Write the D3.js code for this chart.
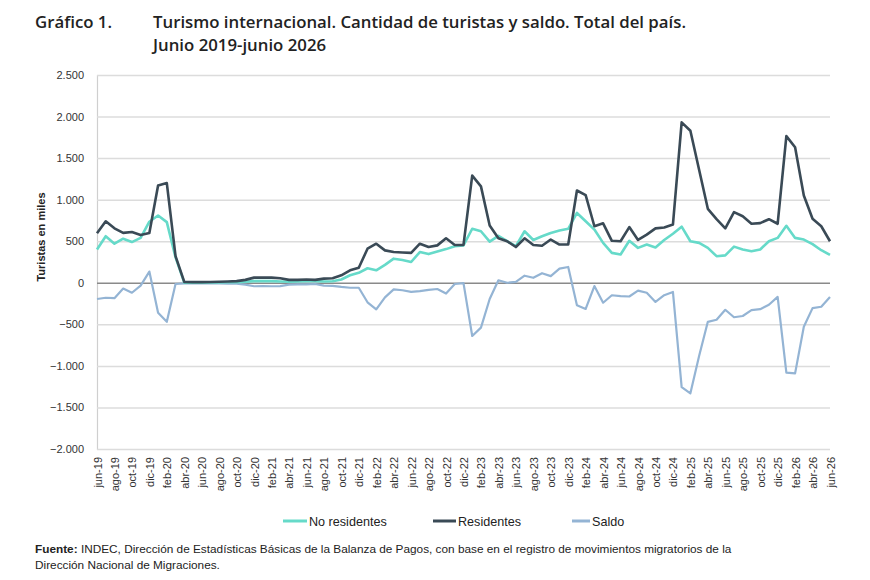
<!DOCTYPE html>
<html><head><meta charset="utf-8">
<script src="https://cdn.jsdelivr.net/npm/d3@7"></script>
<style>body{margin:0;background:#fff}svg{display:block}</style>
</head><body><svg id="c" width="870" height="580"></svg>
<script>
const months = ["jun-19","jul-19","ago-19","sep-19","oct-19","nov-19","dic-19","ene-20","feb-20","mar-20","abr-20","may-20","jun-20","jul-20","ago-20","sep-20","oct-20","nov-20","dic-20","ene-21","feb-21","mar-21","abr-21","may-21","jun-21","jul-21","ago-21","sep-21","oct-21","nov-21","dic-21","ene-22","feb-22","mar-22","abr-22","may-22","jun-22","jul-22","ago-22","sep-22","oct-22","nov-22","dic-22","ene-23","feb-23","mar-23","abr-23","may-23","jun-23","jul-23","ago-23","sep-23","oct-23","nov-23","dic-23","ene-24","feb-24","mar-24","abr-24","may-24","jun-24","jul-24","ago-24","sep-24","oct-24","nov-24","dic-24","ene-25","feb-25","mar-25","abr-25","may-25","jun-25","jul-25","ago-25","sep-25","oct-25","nov-25","dic-25","ene-26","feb-26","mar-26","abr-26","may-26","jun-26"];
const noResidentes = [400,560,470,530,490,540,735,810,730,305,2,2,2,3,4,6,8,12,20,22,20,15,12,15,20,20,15,18,40,90,120,175,150,215,290,275,250,370,345,375,405,440,450,650,620,495,565,500,440,620,515,560,600,630,650,840,740,640,480,360,340,505,420,460,425,515,590,675,500,480,420,320,330,435,400,380,400,500,540,685,540,520,465,392,335];
const residentes = [595,740,655,600,610,575,600,1170,1200,320,10,8,8,10,12,15,20,35,62,62,62,55,35,35,40,35,50,55,90,150,180,410,470,390,370,365,360,470,430,450,535,455,455,1290,1160,690,535,500,430,535,455,445,520,460,460,1110,1055,680,715,505,500,670,515,580,655,665,700,1930,1830,1360,890,765,655,850,800,710,718,765,710,1765,1630,1050,770,680,500];
const saldo = [-195,-180,-185,-70,-120,-35,135,-360,-470,-15,-8,-6,-6,-7,-8,-9,-12,-23,-42,-40,-42,-40,-23,-20,-20,-15,-35,-37,-50,-60,-60,-235,-320,-175,-80,-90,-110,-100,-85,-75,-130,-15,-5,-640,-540,-195,30,0,10,85,60,115,80,170,190,-270,-315,-40,-240,-150,-160,-165,-95,-120,-230,-150,-110,-1255,-1330,-880,-470,-445,-325,-415,-400,-330,-318,-265,-170,-1080,-1090,-530,-305,-288,-170];
const yTicks = [2500,2000,1500,1000,500,0,-500,-1000,-1500,-2000];
const seriesNames = ["No residentes","Residentes","Saldo"];
const seriesColors = ["#66dac9","#3a4a56","#94b4d4"];

const svg = d3.select("#c");
const L = 97, R = 830, T = 75, B = 449;
const x = d3.scalePoint().domain(months).range([L, R]);
const y = d3.scaleLinear().domain([-2000, 2500]).range([B, T]);
const fmt = v => d3.format(",")(v).replace(/,/g, ".");
const af = "'Liberation Sans', Arial, sans-serif";

// Title
const tf = "'Open Sans', sans-serif";
const title = (tx, xx, yy) => svg.append("text").attr("x",xx).attr("y",yy).attr("font-family",tf).attr("font-weight",600).attr("font-size",16.8).attr("fill","#222").text(tx);
title("Gráfico 1.", 35, 28);
title("Turismo internacional. Cantidad de turistas y saldo. Total del país.", 153, 28);
title("Junio 2019-junio 2026", 153, 51);

// grid
const yAxis = d3.axisLeft(y).tickValues(yTicks).tickFormat(fmt).tickSize(-(R-L)).tickPadding(13);
const gy = svg.append("g").attr("transform",`translate(${L},0)`).call(yAxis);
gy.select(".domain").attr("stroke","#cfcfcf").attr("stroke-width",1.2);
gy.selectAll(".tick line").attr("stroke", d => d===0 ? "#8a8a8a" : "#dcdcdc").attr("stroke-width",1.5);
gy.selectAll(".tick text").attr("font-family",af).attr("font-size",11).attr("fill","#333");

svg.append("text").attr("transform","translate(45,237) rotate(-90)").attr("text-anchor","middle")
  .attr("font-family",af).attr("font-weight","bold").attr("font-size",11).attr("fill","#222").text("Turistas en miles");

// x axis labels
const xAxis = d3.axisBottom(x).tickValues(months.filter((m,i)=>i%2===0)).tickSize(0).tickPadding(0);
const gx = svg.append("g").attr("transform",`translate(0,${B})`).call(xAxis);
gx.select(".domain").remove();
gx.selectAll(".tick text").attr("font-family",af).attr("font-size",11).attr("fill","#333")
  .attr("text-anchor","end").attr("dy",0).attr("dominant-baseline","central")
  .attr("transform","translate(0,8) rotate(-90)");

// lines
const data = [noResidentes, residentes, saldo];
const line = d3.line().x((d,i)=>x(months[i])).y(d=>y(d));
const order = [2,0,1];
const widths = [2.6,2.6,2.2];
order.forEach(k=>{
  svg.append("path").datum(data[k]).attr("d",line).attr("fill","none")
    .attr("stroke",seriesColors[k]).attr("stroke-width",widths[k]).attr("stroke-linejoin","round");
});

// legend
const lx = [283,433,572], lw = [24,23,18];
seriesNames.forEach((n,k)=>{
  svg.append("line").attr("x1",lx[k]).attr("x2",lx[k]+lw[k]).attr("y1",521).attr("y2",521).attr("stroke",seriesColors[k]).attr("stroke-width",3);
  svg.append("text").attr("x",lx[k]+lw[k]+2).attr("y",525.5).attr("font-family",af).attr("font-size",12.6).attr("fill","#222").text(n);
});

// footer
const ft = svg.append("text").attr("x",35).attr("y",553).attr("font-family",af).attr("font-size",11.8).attr("fill","#222");
ft.append("tspan").attr("font-weight","bold").text("Fuente:");
ft.append("tspan").text(" INDEC, Dirección de Estadísticas Básicas de la Balanza de Pagos, con base en el registro de movimientos migratorios de la");
svg.append("text").attr("x",35).attr("y",569).attr("font-family",af).attr("font-size",11.8).attr("fill","#222").text("Dirección Nacional de Migraciones.");
</script></body></html>
